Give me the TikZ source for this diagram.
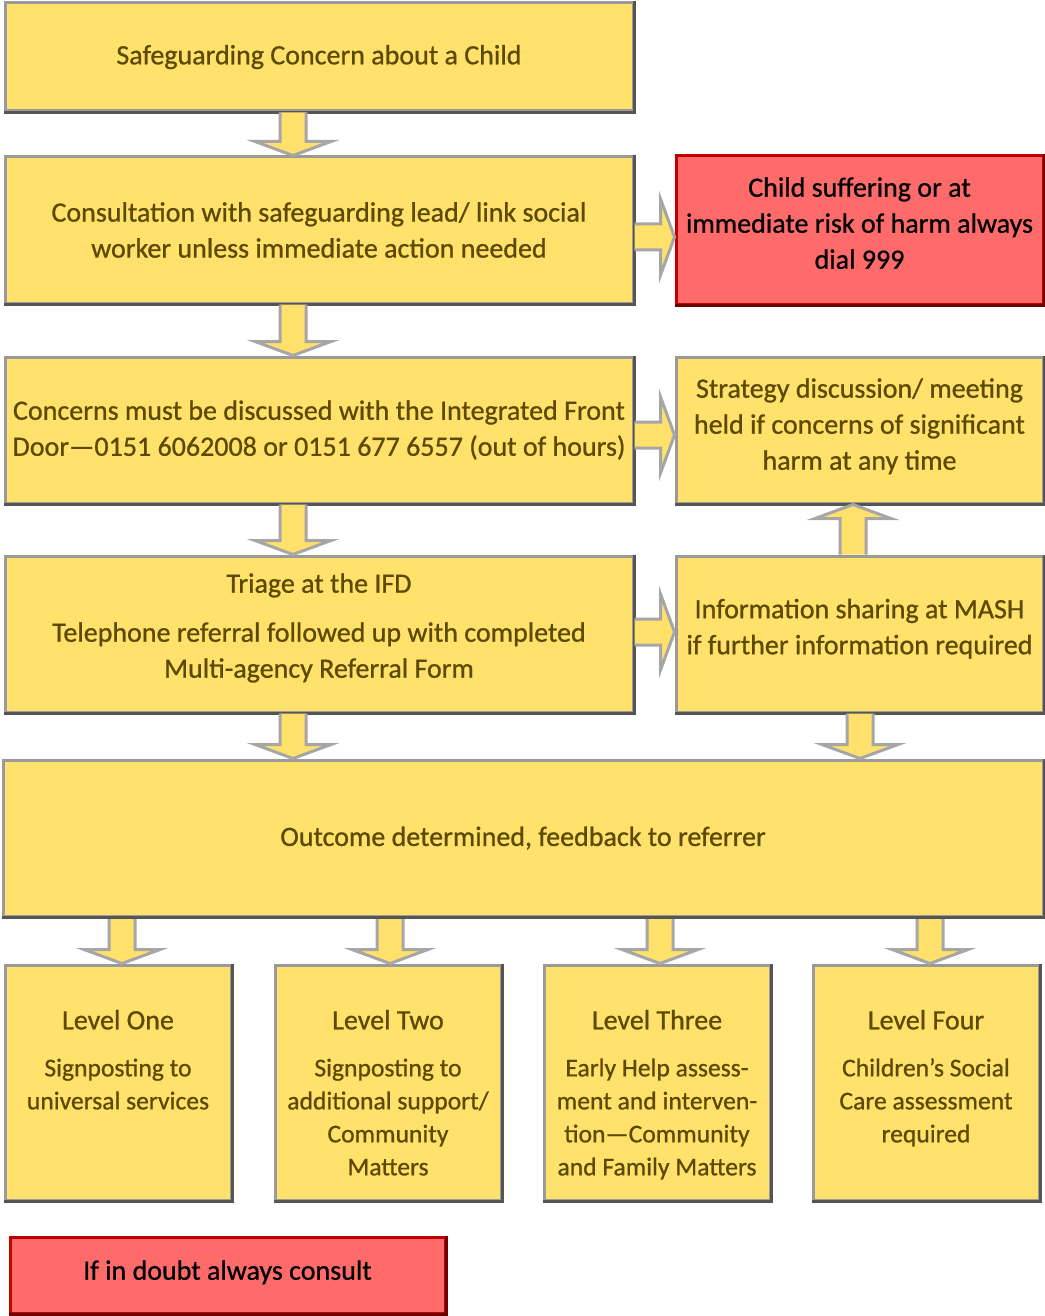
\documentclass[tikz,border=0pt]{standalone}
\usepackage{fontspec}
\setmainfont{Carlito}[FakeBold=0.8]
\usetikzlibrary{calc}

\definecolor{boxyellow}{HTML}{FFE16B}
\definecolor{boxred}{HTML}{FF6B6B}
\definecolor{edgegray}{HTML}{9A9A9A}
\definecolor{edgedark}{HTML}{555555}
\definecolor{edgered}{HTML}{C00000}
\definecolor{edgereddark}{HTML}{6E0000}
\definecolor{textbrown}{HTML}{5C4A00}
\definecolor{arrowgray}{HTML}{A6A6A6}

\tikzset{
  flowbox/.style={draw=edgegray, fill=boxyellow, line width=1.5pt, text=textbrown,
    align=center, inner sep=0pt, font=\fontsize{14}{18}\selectfont},
  alertbox/.style={flowbox, draw=edgered, fill=boxred, text=black},
  leveltext/.style={text=textbrown, align=center, inner sep=0pt,
    font=\fontsize{12.8}{16.5}\selectfont},
  fat arrow/.style={draw=arrowgray, fill=boxyellow, line width=1.5pt, line join=miter},
}

% block arrow from #1 to #2
\newcommand{\fatarrow}[2]{%
  \filldraw[fat arrow] let \p1=($(#2)-(#1)$), \n1={veclen(\x1,\y1)}, \n2={atan2(\y1,\x1)} in
    [shift={(#1)}, rotate=\n2]
    (0pt,6.5pt) -- (\n1-7pt,6.5pt) -- (\n1-7pt,19pt) -- (\n1+0pt,0pt)
    -- (\n1-7pt,-19pt) -- (\n1-7pt,-6.5pt) -- (0pt,-6.5pt);}
% extra depth under the last line, lifts the text a little
\newcommand{\lift}[1]{\rule[-#1]{0pt}{0pt}}

\begin{document}
\begin{tikzpicture}[x=0.5pt, y=-0.5pt]
    \useasboundingbox (0,0) rectangle (1044,1316);

    % Left column
    \node[flowbox, minimum width=314pt, minimum height=54pt] (concern) at (319,57)
      {Safeguarding Concern about a Child};
    \node[flowbox, minimum width=314pt, minimum height=73pt] (consult) at (319,230)
      {Consultation with safeguarding lead/ link social\\worker unless immediate action needed};
    \node[flowbox, minimum width=314pt, minimum height=73pt] (ifd) at (319,430)
      {Concerns must be discussed with the Integrated Front\\Door---0151 6062008 or 0151 677 6557 (out of hours)};
    \node[flowbox, minimum width=314pt, minimum height=78pt] (triage) at (319,634)
      {Triage at the IFD\\[6.5pt]Telephone referral followed up with completed\\Multi-agency Referral Form\lift{8.5pt}};

    % Right column
    \node[alertbox, minimum width=183.5pt, minimum height=74pt] (risk) at (859.5,230)
      {Child suffering or at\\immediate risk of harm always\\dial 999\lift{7pt}};
    \node[flowbox, minimum width=183.5pt, minimum height=73pt] (strategy) at (859.5,430)
      {Strategy discussion/ meeting\\held if concerns of significant\\harm at any time\lift{6pt}};
    \node[flowbox, minimum width=183.5pt, minimum height=78pt] (mash) at (859.5,634)
      {Information sharing at MASH\\if further information required\lift{7.5pt}};

    % Outcome
    \node[flowbox, minimum width=520pt, minimum height=78pt] (outcome) at (523,838)
      {Outcome determined, feedback to referrer};

    % Levels
    \foreach \i/\cx/\ax/\txt in {
        1/118/122/{{\fontsize{14}{16.5}\selectfont Level One}\\[7pt]Signposting to\\universal services},
        2/388/390/{{\fontsize{14}{16.5}\selectfont Level Two}\\[7pt]Signposting to\\additional support/\\Community\\Matters},
        3/657/660/{{\fontsize{14}{16.5}\selectfont Level Three}\\[7pt]Early Help assess-\\ment and interven-\\tion---Community\\and Family Matters},
        4/926/930/{{\fontsize{14}{16.5}\selectfont Level Four}\\[7pt]Children’s Social\\Care assessment\\required}} {
        \node[flowbox, minimum width=113pt, minimum height=117.5pt] (level\i) at (\cx,1082.5) {};
        \node[leveltext, anchor=north] (level\i text) at ([yshift=-23pt]level\i.north) {\txt};
        \coordinate (lc\i) at (\ax,0);
        \fatarrow{outcome.south -| lc\i}{level\i.north -| lc\i}
      }

    \node[alertbox, minimum width=217.5pt, minimum height=38pt] (doubt) at (227.5,1275)
      {If in doubt always consult\lift{5pt}};

    % Darker lower and right edges
    \foreach \n in {concern, consult, ifd, triage, strategy, mash, outcome, level1, level2, level3, level4} {
        \draw[edgedark, line width=1.5pt] (\n.north east) -- (\n.south east) -- (\n.south west);
      }
    \foreach \n in {risk, doubt} {
        \draw[edgereddark, line width=1.5pt] (\n.north east) -- (\n.south east) -- (\n.south west);
      }

    % Draw arrows
    \coordinate (colL) at (293,0);
    \coordinate (colR) at (860,0);
    \coordinate (colU) at (853,0);
    \fatarrow{concern.south -| colL}{consult.north -| colL}
    \fatarrow{consult.south -| colL}{ifd.north -| colL}
    \fatarrow{ifd.south -| colL}{triage.north -| colL}
    \fatarrow{triage.south -| colL}{outcome.north -| colL}
    \fatarrow{mash.south -| colR}{outcome.north -| colR}
    \fatarrow{mash.north -| colU}{strategy.south -| colU}

    \coordinate (rowA) at (0,237);
    \coordinate (rowB) at (0,435);
    \coordinate (rowC) at (0,632);
    \fatarrow{consult.east |- rowA}{risk.west |- rowA}
    \fatarrow{ifd.east |- rowB}{strategy.west |- rowB}
    \fatarrow{triage.east |- rowC}{mash.west |- rowC}
  \end{tikzpicture}
\end{document}
